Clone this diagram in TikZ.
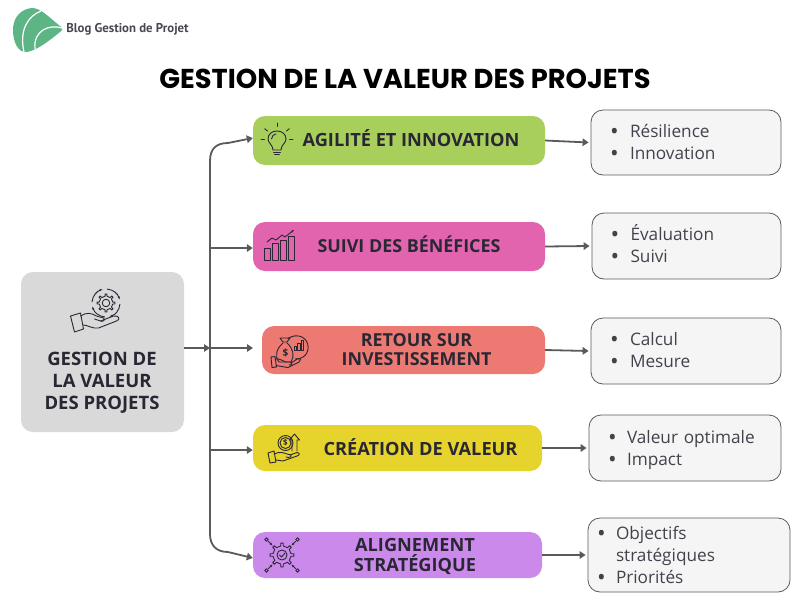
\documentclass[tikz,border=0pt]{standalone}
\usepackage{fontspec}
\setmainfont{Open Sans}
\newfontfamily\titlefont{Poppins}
\newfontfamily\logofont{PT Sans}
\usetikzlibrary{arrows.meta}
\definecolor{ink}{HTML}{2A2734}
\definecolor{wire}{HTML}{5A5A5A}
\definecolor{logogreen}{HTML}{5DB585}
\newcommand{\itemrow}[2]{\makebox[#1][l]{\raisebox{-2pt}{\fontsize{23}{22}\selectfont\textbullet}}#2}
\tikzset{
  x=1pt,y=-1pt,
  boxy/.style={rounded corners=12pt,draw=none,inner sep=0pt},
  lab/.style={text=ink,font=\fontsize{18.2}{19.5}\selectfont\bfseries,align=center,inner sep=0pt},
  items/.style={draw=wire,line width=.8pt,fill=black!4,rounded corners=12pt,inner ysep=0pt,inner xsep=#1,align=left,text=ink!88!white,font=\fontsize{17.2}{22}\selectfont},
  link/.style={draw=wire,line width=1.8pt,-{Triangle[length=6pt,width=7.5pt]}},
  icon/.style={draw=ink,line width=.9pt,fill=none,line cap=round,line join=round},
  pics/gear/.style={code={
    \draw[icon] (0,0) circle (#1*.42);
    \draw[icon] (-8:#1*.76) \foreach \a in {0,45,...,315}{ -- ({\a-8}:#1*.76) -- ({\a-6}:#1) -- ({\a+6}:#1) -- ({\a+8}:#1*.76) } -- cycle;
  }},
  pics/hand/.style={code={
    \draw[icon] (-13,-6) -- (-3,-9) -- (0,7) -- (-9,10) -- cycle;
    \draw[icon] (-3,-6) .. controls (3,-10) and (8,-9) .. (13,-6) -- (20,-4) .. controls (22,-2) and (20,0) .. (17,-1) -- (11,-3);
    \draw[icon] (17,-1) -- (30,-6) .. controls (36,-7) and (37,-2) .. (33,-1) -- (15,6) .. controls (9,7) and (4,3) .. (0,3);
  }},
}
\begin{document}
\begin{tikzpicture}
\useasboundingbox (0,0) rectangle (811,600);
% logo
\fill[logogreen] (27,9) .. controls (38,5) and (45,14) .. (60,26) .. controls (63,28) and (63,30) .. (60,32)
  .. controls (50,40) and (38,50) .. (27,52) .. controls (18,53) and (13,42) .. (13,30) .. controls (13,20) and (18,12) .. (27,9) -- cycle;
\draw[white,line width=1.2pt] (41,11) .. controls (28,16) and (19,30) .. (24,52);
\draw[white,line width=1.2pt] (62,28) .. controls (50,24) and (33,30) .. (35,49);
\node[font=\logofont\fontsize{12.8}{14}\selectfont\bfseries,text=ink!85!white,inner sep=0pt] (logotext) at (127.5,29.5) {Blog Gestion de Projet};
% title
\node[font=\titlefont\fontsize{27.3}{30}\selectfont\bfseries,text=black,inner sep=0pt] (title) at (405,79) {GESTION DE LA VALEUR DES PROJETS};
% main
\node[boxy,fill=black!15,minimum width=163pt,minimum height=160pt] (main) at (102.5,352) {};
\node[lab,font=\fontsize{18.5}{22}\selectfont\bfseries] (mainlab) at (102,382.5) {GESTION DE\\LA VALEUR\\DES PROJETS};
% branches
\node[boxy,fill={rgb,255:red,168;green,206;blue,92},minimum width=292pt,minimum height=49pt] (b1) at (399,140.5) {};
\node[boxy,fill={rgb,255:red,226;green,100;blue,174},minimum width=292pt,minimum height=49pt] (b2) at (399,246.5) {};
\node[boxy,fill={rgb,255:red,236;green,122;blue,114},minimum width=283pt,minimum height=48pt] (b3) at (403.5,350) {};
\node[boxy,fill={rgb,255:red,230;green,211;blue,43},minimum width=289pt,minimum height=46pt] (b4) at (397.5,448) {};
\node[boxy,fill={rgb,255:red,203;green,138;blue,235},minimum width=289pt,minimum height=46pt] (b5) at (397.5,555) {};
\node[lab] (l1) at (411,138.5) {AGILITÉ ET INNOVATION};
\node[lab,font=\fontsize{17.9}{19.5}\selectfont\bfseries] (l2) at (409,244.5) {SUIVI DES BÉNÉFICES};
\node[lab,font=\fontsize{17.9}{19.5}\selectfont\bfseries] (l3) at (416.5,349.5) {RETOUR SUR\\INVESTISSEMENT};
\node[lab] (l4) at (420.5,447.5) {CRÉATION DE VALEUR};
\node[lab] (l5) at (415,556.5) {ALIGNEMENT\\STRATÉGIQUE};
% item boxes
\node[items=19pt,text width=152pt,minimum height=65pt] (r1) at (686,142.5) {\itemrow{20pt}{Résilience}\\\itemrow{20pt}{Innovation}};
\node[items=18.5pt,text width=152pt,minimum height=66pt] (r2) at (686.5,246) {\itemrow{20pt}{\smash{É}valuation}\\\itemrow{20pt}{Suivi}};
\node[items=19pt,text width=152pt,minimum height=66pt] (r3) at (686,351) {\itemrow{20pt}{Calcul}\\\itemrow{20pt}{Mesure}};
\node[items=19pt,text width=154pt,minimum height=66pt] (r4) at (685,448) {\rule{0pt}{17pt}\itemrow{19pt}{Valeur optimale}\\\itemrow{19pt}{Impact}};
\node[items=9pt,text width=184pt,minimum height=74pt] (r5) at (689,555) {\rule{0pt}{15pt}\itemrow{19pt}{Objectifs}\\\hspace*{19pt}stratégiques\\\itemrow{19pt}{Priorités}};
% connectors
\coordinate (tj1) at (210,248);
\coordinate (tj2) at (210,348);
\coordinate (tj3) at (210,450);
\draw[link] (main.east |- tj2) -- (tj2);
\draw[link] (tj2) -- (210,161) .. controls (210,149) and (216,143) .. (228,143) -- ([yshift=2.5pt]b1.west);
\draw[link] (tj2) -- (210,534) .. controls (210,545) and (216,552) .. (228,552) -- ([yshift=-3pt]b5.west);
\draw[link] (tj1) -- (b2.west |- tj1);
\draw[link] (tj2) -- ([xshift=43pt]tj2);
\draw[link] (tj3) -- (b4.west |- tj3);
\draw[link] (b1.east) -- ([xshift=-2pt]r1.west);
\draw[link] (b2.east) -- ([xshift=-2pt]r2.west);
\draw[link] (b3.east) -- ([xshift=-2pt]r3.west);
\draw[link] (b4.east) -- ([xshift=-2pt]r4.west);
\draw[link] (b5.east) -- ([xshift=-2pt]r5.west);
% main icon
\pic at (106,303) {gear=9};
\foreach \a in {5,95,185,275}{\draw[icon,-{Stealth[length=3pt]}] (106,303) ++(\a:14) arc (\a:\a+70:14);}
\pic at (83.5,322) {hand};
% bulb
\begin{scope}[shift={(277,143)}]
\draw[icon] (-4,7) .. controls (-4,2) and (-9,0) .. (-9,-4) .. controls (-9,-9) and (-5,-12) .. (0,-12) .. controls (5,-12) and (9,-9) .. (9,-4) .. controls (9,0) and (4,2) .. (4,7) -- cycle;
\draw[icon] (-3.5,9) -- (3.5,9) (-2.5,11) -- (2.5,11);
\draw[icon] (-5.5,-4) .. controls (-5.5,-7) and (-3,-9) .. (-1,-9);
\foreach \a in {0,-40,-90,-140,-180}{\draw[icon] (0,-4) ++(\a:12.5) -- ++(\a:3.5);}
\end{scope}
% chart
\begin{scope}[shift={(264,260)}]
\foreach \x/\h in {0.5/12,8.5/17,16.5/20,24.5/24}{\draw[icon] (\x,0) rectangle (\x+5.5,-\h);}
\draw[icon,-{Stealth[length=3pt]}] (3,-18) -- (8,-22) -- (12,-20) -- (18,-25) -- (21,-23) -- (30,-30);
\end{scope}
% money bag
\draw[icon] (280,338) -- (290,338) -- (287,342) -- (283,342) -- cycle;
\draw[icon] (283,343) .. controls (277,348) and (274,356) .. (279,362) -- (291,362) .. controls (295,356) and (293,348) .. (287,343);
\node[font=\fontsize{10}{10}\selectfont\bfseries,text=ink,inner sep=0pt] (bagdollar) at (285.5,353) {\$};
\draw[icon] (288,338.5) .. controls (292,335.5) and (298,335) .. (302,337) .. controls (310,341) and (310,353) .. (303,357) .. controls (301,358.5) and (298,359.5) .. (295,359);
\draw[icon] (294,350) rectangle (296.5,346) (297.5,350) rectangle (300,343) (301,350) rectangle (303.5,340);
\draw[icon] (271,357) -- (275,356.5) -- (276.5,367) -- (272,367.5) -- cycle;
\draw[icon] (275,359) .. controls (279,358) and (283,361) .. (286,362) -- (291,362) .. controls (293,363) and (292,365) .. (289,365) (291,363) -- (298,358.5) .. controls (301,358) and (301,361) .. (299,362) -- (288,367.5) -- (276,365.5);
% coin and hand
\begin{scope}[shift={(284,450)}]
\draw[icon] (1.5,-7) circle (7.5) (1.5,-7) circle (5.5);
\node[font=\fontsize{8}{8}\selectfont\bfseries,text=ink,inner sep=0pt] (coindollar) at (1.5,-7) {\$};
\draw[icon] (8,1) -- (8,-10) -- (5.5,-10) -- (10.5,-16) -- (15.5,-10) -- (13,-10) -- (13,1);
\draw[icon] (-16,3) -- (-10,1) -- (-8,12) -- (-14,13) -- cycle;
\draw[icon] (-10,4) .. controls (-4,1) and (0,3) .. (3,4) -- (7,5) .. controls (8,7) and (5,8) .. (2,7);
\draw[icon] (6,5) -- (13,2.5) .. controls (16,3) and (16,5) .. (13,6) -- (-1,11) -- (-8,10);
\end{scope}
% alignment gear
\begin{scope}[shift={(282,555)}]
\pic at (0,0) {gear=12};
\draw[icon] (-2.5,0) -- (-.5,2) -- (3,-2);
\foreach \sx/\sy in {-1/-1,1/-1,-1/1,1/1}{
  \draw[icon] (\sx*15.5,\sy*15.5) circle (1.8);
  \draw[icon,-{Stealth[length=3pt]}] (\sx*13.5,\sy*13.5) -- (\sx*9.5,\sy*9.5);
}
\end{scope}
\end{tikzpicture}
\end{document}
